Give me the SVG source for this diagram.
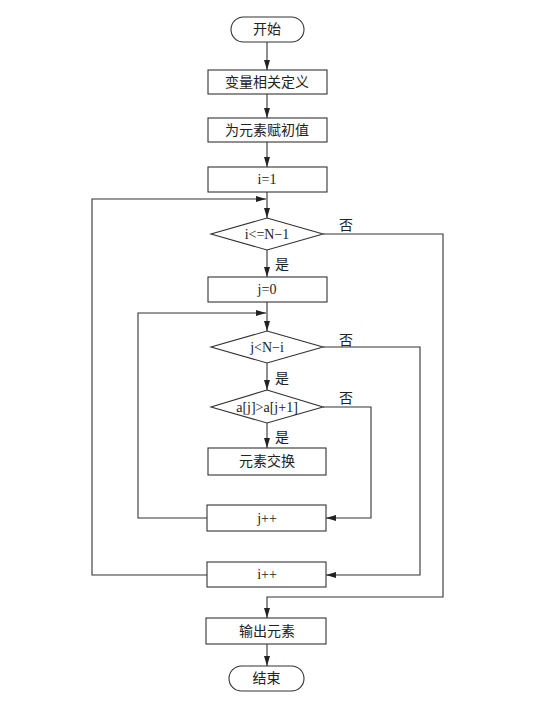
<svg xmlns="http://www.w3.org/2000/svg" width="559" height="702" viewBox="0 0 559 702">
<defs>
<marker id="arr" viewBox="0 0 10 6" refX="10" refY="3" markerWidth="10" markerHeight="6" markerUnits="userSpaceOnUse" orient="auto">
<path d="M0,0 L10,3 L0,6 Z" fill="#222"/>
</marker>
<style>
.shape{fill:#fff;stroke:#333;stroke-width:1.1}
.line{fill:none;stroke:#333;stroke-width:1.1}
.t{font-family:"Liberation Serif","Noto Sans CJK SC",serif;font-size:14px;fill:#222;text-anchor:middle;dominant-baseline:central}
.lbl{font-family:"Liberation Serif","Noto Sans CJK SC",serif;font-size:14px;fill:#222;dominant-baseline:central}
</style>
</defs>
<rect width="559" height="702" fill="#fff"/>
<g id="connectors">
<line class="line" x1="267" y1="42" x2="267" y2="70" marker-end="url(#arr)"/>
<line class="line" x1="267" y1="94" x2="267" y2="118" marker-end="url(#arr)"/>
<line class="line" x1="267" y1="142" x2="267" y2="167" marker-end="url(#arr)"/>
<line class="line" x1="267" y1="192" x2="267" y2="218" marker-end="url(#arr)"/>
<polyline class="line" points="207,575 92,575 92,199 266,199" marker-end="url(#arr)"/>
<line class="line" x1="267" y1="250" x2="267" y2="277" marker-end="url(#arr)"/>
<polyline class="line" points="323,234 443,234 443,597 267,597 267,618" marker-end="url(#arr)"/>
<line class="line" x1="267" y1="302" x2="267" y2="331" marker-end="url(#arr)"/>
<polyline class="line" points="207,518 138,518 138,313 266,313" marker-end="url(#arr)"/>
<line class="line" x1="267" y1="363" x2="267" y2="390" marker-end="url(#arr)"/>
<polyline class="line" points="323,347 420,347 420,575 326,575" marker-end="url(#arr)"/>
<line class="line" x1="267" y1="423" x2="267" y2="448" marker-end="url(#arr)"/>
<polyline class="line" points="323,407 371,407 371,518 326,518" marker-end="url(#arr)"/>
<line class="line" x1="267" y1="644" x2="267" y2="666" marker-end="url(#arr)"/>
<text class="lbl" x="339" y="225">否</text>
<text class="lbl" x="275" y="264">是</text>
<text class="lbl" x="339" y="340">否</text>
<text class="lbl" x="275" y="378">是</text>
<text class="lbl" x="339" y="398">否</text>
<text class="lbl" x="275" y="437">是</text>
</g>
<g id="start"><rect class="shape" x="231" y="17" width="73" height="25" rx="12.5"/><text class="t" x="267" y="29.5">开始</text></g>
<g id="define"><rect class="shape" x="208" y="70" width="119" height="24"/><text class="t" x="267" y="82">变量相关定义</text></g>
<g id="init"><rect class="shape" x="208" y="118" width="119" height="24"/><text class="t" x="267" y="130">为元素赋初值</text></g>
<g id="i1"><rect class="shape" x="208" y="167" width="119" height="25"/><text class="t" x="267" y="179.5">i=1</text></g>
<g id="cond1"><polygon class="shape" points="267,218 323,234 267,250 211,234"/><text class="t" x="267" y="234">i&lt;=N−1</text></g>
<g id="j0"><rect class="shape" x="208" y="277" width="119" height="25"/><text class="t" x="267" y="289.5">j=0</text></g>
<g id="cond2"><polygon class="shape" points="267,331 323,347 267,363 211,347"/><text class="t" x="267" y="347">j&lt;N−i</text></g>
<g id="cond3"><polygon class="shape" points="267,390 323,407 267,423 211,407"/><text class="t" x="267" y="407">a[j]&gt;a[j+1]</text></g>
<g id="swap"><rect class="shape" x="208" y="448" width="118" height="27"/><text class="t" x="267" y="461.5">元素交换</text></g>
<g id="jinc"><rect class="shape" x="207" y="505" width="119" height="26"/><text class="t" x="267" y="518">j++</text></g>
<g id="iinc"><rect class="shape" x="207" y="562" width="119" height="25"/><text class="t" x="267" y="574.5">i++</text></g>
<g id="output"><rect class="shape" x="206" y="618" width="120" height="26"/><text class="t" x="267" y="631">输出元素</text></g>
<g id="end"><rect class="shape" x="229" y="666" width="75" height="25" rx="12.5"/><text class="t" x="266.5" y="678.5">结束</text></g>
</svg>
